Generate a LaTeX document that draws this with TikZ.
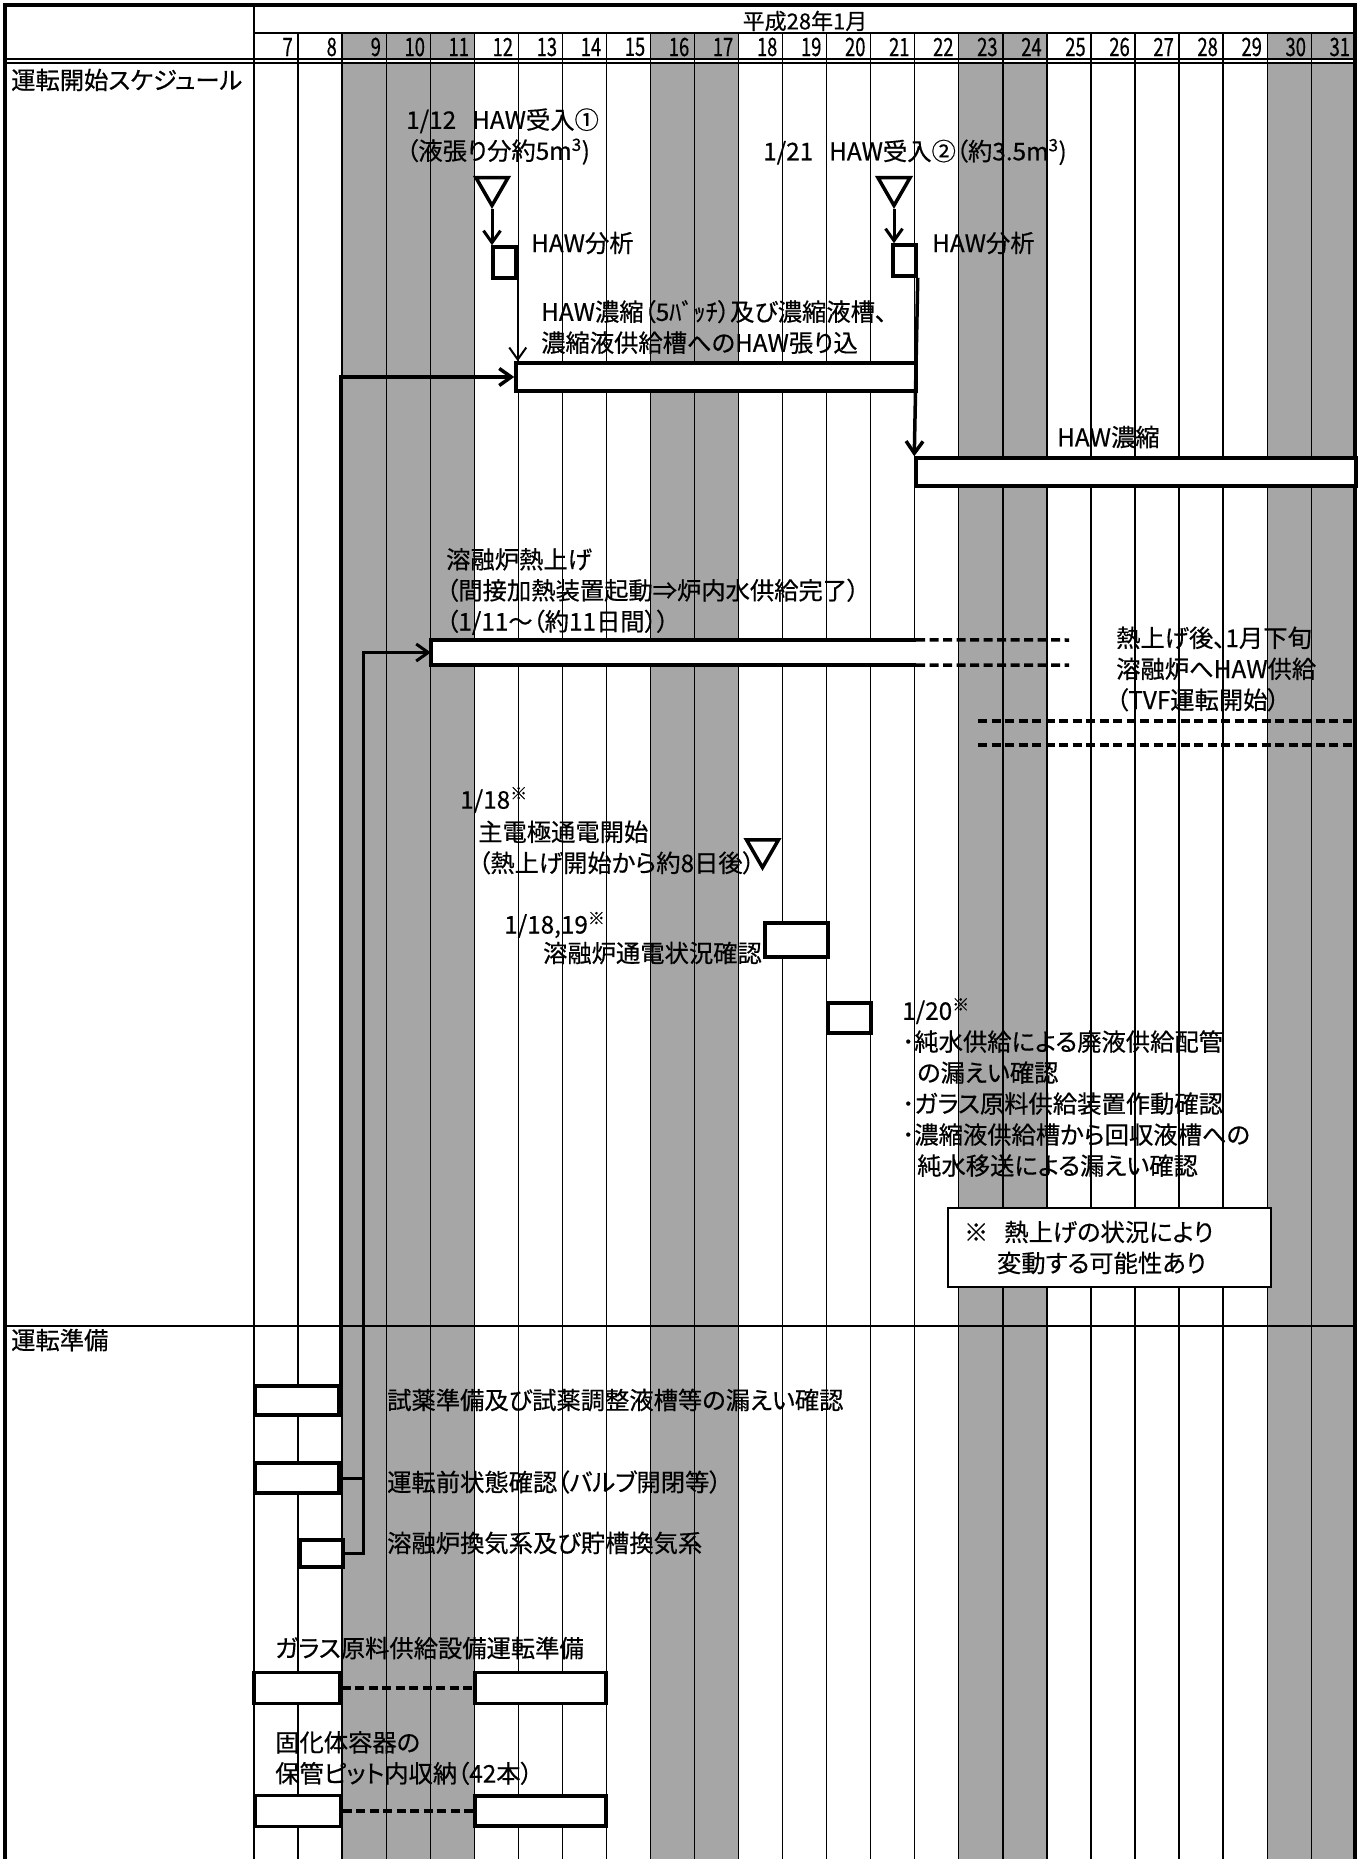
\documentclass[tikz,border=0pt]{standalone}
\usepackage{fontspec}
\setmainfont{Noto Sans CJK JP}[RawFeature=+palt, FakeBold=0.5]
\usepackage{graphicx}
\usepackage{tikz}
\usetikzlibrary{arrows.meta,shapes.geometric}
\definecolor{wkgray}{RGB}{166,166,166}
\def\dayx#1{254+44.05*(#1-7)}
\def\jfont{\fontsize{24.3}{31}\selectfont}
\tikzset{
	gridline/.style={line width=1.3pt},
	frameline/.style={line width=4pt},
	barbox/.style={draw, line width=3.5pt, fill=white, inner sep=0},
	trimark/.style={regular polygon, regular polygon sides=3, shape border rotate=180, draw, line width=3.5pt, fill=white, minimum size=37pt, inner sep=0},
	conn/.style={line width=3pt},
	arr/.style={-{Straight Barb[length=12pt,width=17pt]}},
	dashline/.style={line width=3.5pt, dash pattern=on 9pt off 4.5pt},
	txt/.style={inner sep=0, anchor=west, align=left, font=\jfont},
	daynum/.style={inner sep=0, anchor=east, font=\fontsize{23}{23}\selectfont},
}

\begin{document}
\begin{tikzpicture}[x=1pt, y=-1pt]
	%%%%% START %%%%%
	\useasboundingbox (0,0) rectangle (1365,1859);
	\fill[white] (0,0) rectangle (1365,1859);
	
	% weekend columns
	\foreach \d in {9,10,11,16,17,23,24,30,31}
		\fill[wkgray] ({\dayx{\d}},33) rectangle ({\dayx{\d}+44.05},1859);
	\fill[white] (5,59.5) rectangle (1355,63);
	
	% grid
	\foreach \k in {1,...,24}
		\draw[gridline] ({254+44.05*\k},33) -- ({254+44.05*\k},1859);
	\draw[line width=2.2pt] (254,5) -- (254,1859);
	\draw[line width=1.5pt] (254,33) -- (1355,33);
	\draw[line width=2pt] (5,59.5) -- (1355,59.5);
	\draw[line width=1.5pt] (5,63) -- (1355,63);
	\draw[line width=2pt] (5,1326) -- (1355,1326);
	\draw[frameline] (5,1859) -- (5,5) -- (1355,5) -- (1355,1859);
	
	% header
	\node[txt, anchor=center, font=\fontsize{22}{22}\selectfont] (month) at (805,21) {平成28年1月};
	\foreach \d in {7,...,31}
		\node[daynum] (d\d) at ({\dayx{\d}+39},47) {\scalebox{0.8}[1.1]{\d}};
	
	\node[txt] (sched) at (11,80) {運転開始スケジュール};
	\node[txt] (prep) at (11,1340) {運転準備};
	
	% HAW receipt and concentration
	\node[txt] (hawin1) at (406,136.5) {1/12\hspace{16pt}HAW受入①\\（液張り分約5m\textsuperscript{3})};
	\node[txt] (hawin2) at (763,152) {1/21\hspace{16pt}HAW受入②（約3.5m\textsuperscript{3})};
	\node[trimark] (tri1) at (492,187) {};
	\node[trimark] (tri2) at (894,187) {};
	\node[barbox, minimum width=23pt, minimum height=31pt] (ana1) at (504.5,262.5) {};
	\node[barbox, minimum width=23pt, minimum height=31pt] (ana2) at (904.5,260.5) {};
	\node[txt] (ana1lbl) at (531,243) {HAW分析};
	\node[txt] (ana2lbl) at (932,243) {HAW分析};
	\node[txt] (conc1lbl) at (541,327) {HAW濃縮（5ﾊﾞｯﾁ）及び濃縮液槽、\\濃縮液供給槽へのHAW張り込};
	\node[barbox, minimum width=400pt, minimum height=28pt] (conc1) at (716,377) {};
	\node[txt] (conc2lbl) at (1057,437) {HAW濃縮};
	\node[barbox, minimum width=440pt, minimum height=28pt] (conc2) at (1136,472) {};
	
	\draw[conn, arr] (tri1.south) -- (tri1.south |- ana1.north);
	\draw[conn, line width=2pt, arr] (ana1.south east) -- (ana1.south east |- conc1.north);
	\draw[conn, arr] (tri2.south) -- (tri2.south |- ana2.north);
	\draw[conn, line width=3.5pt, arr] (ana2.south east) -- (conc2.north west);
	
	% melter heating
	\node[txt] (heatlbl) at (446,591.5) {溶融炉熱上げ\\（間接加熱装置起動⇒炉内水供給完了）\\（1/11～（約11日間））};
	\node[fill=white, inner sep=0, minimum width=485pt, minimum height=25pt] (heat) at (673.5,652.5) {};
	\draw[line width=3.5pt] (heat.north east) -- (heat.north west) -- (heat.south west) -- (heat.south east);
	\coordinate (heatT) at (1069,640);
	\coordinate (heatB) at (1069,665);
	\draw[dashline] (heat.north east) -- (heatT);
	\draw[dashline] (heat.south east) -- (heatB);
	\node[txt] (tvflbl) at (1116,669) {熱上げ後、1月下旬\\溶融炉へHAW供給\\（TVF運転開始）};
	\coordinate (tvfA1) at (978,721);
	\coordinate (tvfA2) at (1355,721);
	\coordinate (tvfB1) at (978,745);
	\coordinate (tvfB2) at (1355,745);
	\draw[dashline] (tvfA1) -- (tvfA2);
	\draw[dashline] (tvfB1) -- (tvfB2);
	
	% electrode
	\node[txt] (elecdate) at (460,800) {1/18\textsuperscript{※}};
	\node[txt] (eleclbl) at (478,847.5) {主電極通電開始\\（熱上げ開始から約8日後）};
	\node[trimark] (tri3) at (762.5,849) {};
	\node[txt] (chkdate) at (504,925) {1/18,19\textsuperscript{※}};
	\node[barbox, minimum width=63pt, minimum height=34pt] (elec) at (796.5,940) {};
	\node[txt, anchor=east] (eleclbl2) at (762,953) {溶融炉通電状況確認};
	\node[barbox, minimum width=43pt, minimum height=30pt] (leak) at (849.5,1018) {};
	\node[txt] (leaklbl) at (902,1087.5) {1/20\textsuperscript{※}\\･純水供給による廃液供給配管\\\hspace*{15pt}の漏えい確認\\･ガラス原料供給装置作動確認\\･濃縮液供給槽から回収液槽への\\\hspace*{15pt}純水移送による漏えい確認};
	\node[draw, line width=1.5pt, fill=white, minimum width=323pt, minimum height=79pt, text width=291pt, inner xsep=16pt, align=left, font=\jfont] (note) at (1109.5,1247.5) {※\hspace{16pt}熱上げの状況により\\\hspace*{33pt}変動する可能性あり};
	
	% preparation
	\node[barbox, minimum width=84pt, minimum height=29pt] (prepA) at (297,1400.5) {};
	\node[txt] (prepAlbl) at (387,1400) {試薬準備及び試薬調整液槽等の漏えい確認};
	\node[barbox, minimum width=84pt, minimum height=30pt] (prepB) at (297,1478) {};
	\node[txt] (prepBlbl) at (387,1482) {運転前状態確認（バルブ開閉等）};
	\node[barbox, minimum width=43pt, minimum height=27pt] (prepC) at (321.5,1553.5) {};
	\node[txt] (prepClbl) at (387,1543) {溶融炉換気系及び貯槽換気系};
	
	\draw[conn, line width=3.5pt, arr] (prepA.north east) |- (conc1.west);
	\coordinate (riser) at (363,1478);
	\draw[conn, arr] (prepB.east) -- (riser) |- (heat.west);
	\draw[conn] (prepC.east) -| (riser);
	
	\node[txt] (glasslbl) at (275,1648) {ガラス原料供給設備運転準備};
	\node[barbox, minimum width=86pt, minimum height=31pt] (glassA) at (297,1688) {};
	\node[barbox, minimum width=131pt, minimum height=31pt] (glassB) at (540.5,1688) {};
	\draw[dashline] (glassA.east) -- (glassB.west);
	
	\node[txt] (canlbl) at (275,1758) {固化体容器の\\保管ピット内収納（42本）};
	\node[barbox, minimum width=86pt, minimum height=31pt] (canA) at (298,1811) {};
	\node[barbox, minimum width=131pt, minimum height=30pt] (canB) at (540.5,1811) {};
	\draw[dashline] (canA.east) -- (canB.west);
	
	%%%%% END %%%%%
\end{tikzpicture}
\end{document}
